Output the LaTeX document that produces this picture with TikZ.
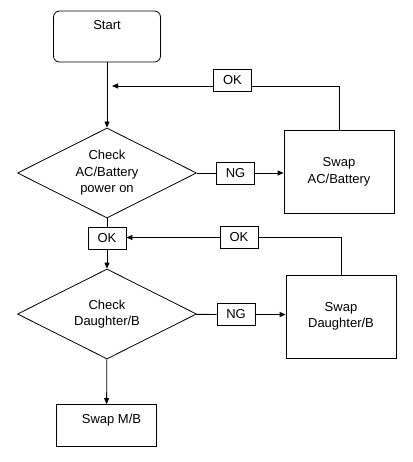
\documentclass[tikz,border=0pt]{standalone}
\usepackage{fontspec}
\setmainfont{Liberation Sans}
\usetikzlibrary{arrows.meta,shapes.geometric}

\begin{document}
\begin{tikzpicture}[>={Triangle[length=6pt,width=5pt]},x=1pt,y=-1pt,
    every node/.style={font=\fontsize{13}{16.5}\selectfont},
    box/.style={draw,line width=0.8pt,inner sep=0pt,align=center},
    tag/.style={draw,line width=0.8pt,inner sep=0pt,minimum width=38pt,minimum height=22pt},
    check/.style={draw,diamond,line width=0.8pt,inner sep=0pt,minimum width=179pt,minimum height=90pt},
    line/.style={line width=0.8pt}]
    \useasboundingbox (0,0) rectangle (412,462);

    % first check
    \node[box,rounded corners=6pt,minimum width=107pt,minimum height=51pt,
        label={[anchor=north,yshift=-6pt]north:Start}] (start) at (107,36.5) {};
    \node[check,label={[align=center]center:{Check\\AC/Battery\\power on}}] (chkac) at (107,173) {};
    \node[tag] (ng1) at (235.5,173) {NG};
    \node[box,minimum width=110pt,minimum height=83pt] (swapac) at (339,172) {Swap\\AC/Battery};
    \node[tag] (ok1) at (232.5,80.5) {OK};
    \coordinate (join1) at (112,86);

    % second check
    \node[tag] (ok2) at (107,238) {OK};
    \node[tag] (ok3) at (239,237.5) {OK};
    \node[check,label={[align=center]center:{Check\\Daughter/B}}] (chkdb) at (107,314) {};
    \node[tag] (ng2) at (236,314.5) {NG};
    \node[box,minimum width=110pt,minimum height=83pt] (swapdb) at (341,316.5) {Swap\\Daughter/B};
    \node[box,minimum width=100pt,minimum height=42pt,
        label={[anchor=north,yshift=-6pt,xshift=5pt]north:Swap M/B}] (swapmb) at (106.5,425.5) {};

    \draw[line,->] (start) -- (chkac);
    \draw[line,->] (ok1.west |- join1) -- (join1);
    \draw[line] (ok1.east |- join1) -| (swapac.north);
    \draw[line] (chkac) -- (ng1);
    \draw[line,->] (ng1) -- (ng1 -| swapac.west);

    \draw[line] (chkac) -- (ok2);
    \draw[line,->] (ok2) -- (chkdb);
    \draw[line,->] (ok3.west) -- (ok3.west -| ok2.east);
    \draw[line] (ok3) -| (swapdb);
    \draw[line] (chkdb) -- (ng2);
    \draw[line,->] (ng2) -- (ng2 -| swapdb.west);
    \draw[line,->] (chkdb) -- (swapmb);
\end{tikzpicture}
\end{document}
